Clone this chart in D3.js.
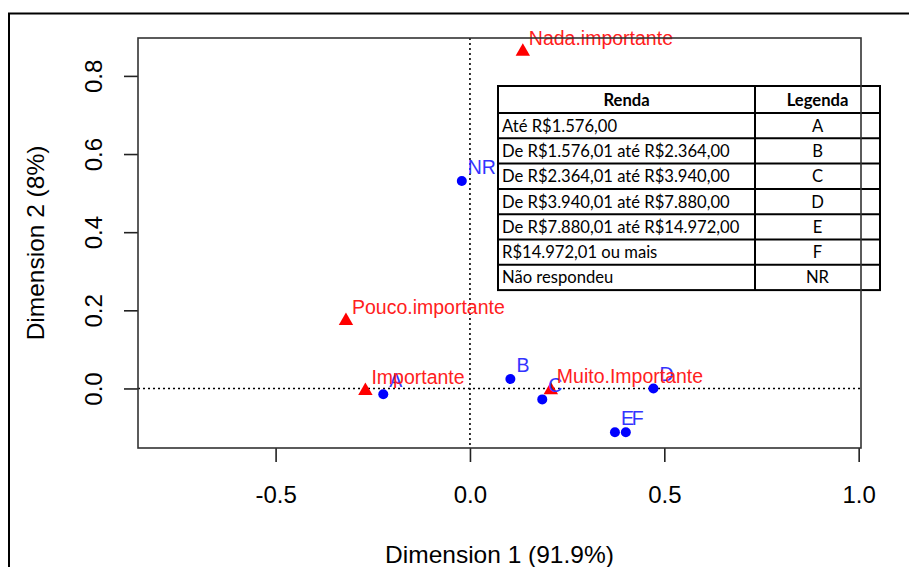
<!DOCTYPE html>
<html>
<head>
<meta charset="utf-8">
<script src="https://cdn.jsdelivr.net/npm/d3@7"></script>
<style>
  body { margin: 0; background: #fff; }
  svg { display: block; }
  .tick text { font-family: "Liberation Sans", Arial, sans-serif; font-size: 24px; fill: #000; }
  .tick line { stroke: #222; stroke-width: 1.6; }
  .lbl { font-family: "Liberation Sans", Arial, sans-serif; font-size: 19.5px; }
  .tbl text { font-family: Lato, "Open Sans", sans-serif; font-size: 16.6px; fill: #000; }
</style>
</head>
<body>
<script>
// Row points (importance), red triangles
var rowLabels = ["Nada.importante", "Pouco.importante", "Importante", "Muito.Importante"];
var rowDim1 = [0.136, -0.319, -0.269, 0.208];
var rowDim2 = [0.862, 0.173, -0.006, -0.004];

// Column points (income), blue circles
var colLabels = ["A", "B", "C", "D", "E", "F", "NR"];
var colDim1 = [-0.223, 0.104, 0.186, 0.472, 0.373, 0.401, -0.021];
var colDim2 = [-0.015, 0.024, -0.028, 0.000, -0.112, -0.112, 0.531];

// Axis ticks
var xTicks = [-0.5, 0.0, 0.5, 1.0];
var yTicks = [0.0, 0.2, 0.4, 0.6, 0.8];

// Legend table
var rendaLabels = ["Até R$1.576,00", "De R$1.576,01 até R$2.364,00", "De R$2.364,01 até R$3.940,00",
    "De R$3.940,01 até R$7.880,00", "De R$7.880,01 até R$14.972,00", "R$14.972,01 ou mais", "Não respondeu"];
var legendaLabels = ["A", "B", "C", "D", "E", "F", "NR"];

var width = 909, height = 567;
var plot = {left: 138, right: 861, top: 38, bottom: 448};

var svg = d3.select("body").append("svg")
    .attr("width", width)
    .attr("height", height);

// outer frame (left and top edges visible)
svg.append("path")
    .attr("d", "M9," + height + "V13.5H" + width)
    .attr("fill", "none")
    .attr("stroke", "#000")
    .attr("stroke-width", 2);

var x = d3.scaleLinear().domain([-0.854, 1.006]).range([plot.left, plot.right]);
var y = d3.scaleLinear().domain([-0.1524, 0.897]).range([plot.bottom, plot.top]);

// dotted reference lines at 0
svg.append("line")
    .attr("x1", x(0)).attr("x2", x(0))
    .attr("y1", plot.top).attr("y2", plot.bottom)
    .attr("stroke", "#000").attr("stroke-width", 1.6)
    .attr("stroke-dasharray", "2,3");
svg.append("line")
    .attr("x1", plot.left).attr("x2", plot.right)
    .attr("y1", y(0)).attr("y2", y(0))
    .attr("stroke", "#000").attr("stroke-width", 1.6)
    .attr("stroke-dasharray", "2,3");

// x axis
var xAxis = svg.append("g")
    .attr("transform", "translate(0," + plot.bottom + ")")
    .call(d3.axisBottom(x).tickValues(xTicks).tickSize(14).tickFormat(function(d) { return d.toFixed(1); }));
xAxis.select(".domain").remove();
xAxis.selectAll(".tick text").attr("y", 54.7).attr("dy", 0);

// y axis
var yAxis = svg.append("g")
    .attr("transform", "translate(" + plot.left + ",0)")
    .call(d3.axisLeft(y).tickValues(yTicks).tickSize(14).tickFormat(function(d) { return d.toFixed(1); }));
yAxis.select(".domain").remove();
yAxis.selectAll(".tick text")
    .attr("x", 0).attr("y", 0).attr("dy", 0)
    .attr("text-anchor", "middle")
    .attr("transform", "translate(-36.3,0) rotate(-90)");

// axis titles
svg.append("text")
    .attr("x", (plot.left + plot.right) / 2)
    .attr("y", 563)
    .attr("text-anchor", "middle")
    .style("font-family", "Liberation Sans, Arial, sans-serif")
    .style("font-size", "24.5px")
    .text("Dimension 1 (91.9%)");
svg.append("text")
    .attr("transform", "translate(44," + (plot.top + plot.bottom) / 2 + ") rotate(-90)")
    .attr("text-anchor", "middle")
    .style("font-family", "Liberation Sans, Arial, sans-serif")
    .style("font-size", "24.5px")
    .text("Dimension 2 (8%)");

var cols = colLabels.map(function(d, i) { return {label: d, d1: colDim1[i], d2: colDim2[i]}; });
var rows = rowLabels.map(function(d, i) { return {label: d, d1: rowDim1[i], d2: rowDim2[i]}; });

// column points
svg.append("g").selectAll("circle")
    .data(cols)
    .enter().append("circle")
    .attr("cx", function(d) { return x(d.d1); })
    .attr("cy", function(d) { return y(d.d2); })
    .attr("r", 5)
    .attr("fill", "#0000ff");

// row points
svg.append("g").selectAll("path")
    .data(rows)
    .enter().append("path")
    .attr("d", d3.symbol(d3.symbolTriangle, 90))
    .attr("transform", function(d) { return "translate(" + x(d.d1) + "," + y(d.d2) + ")"; })
    .attr("fill", "#ff0000");

// labels
svg.append("g").selectAll("text")
    .data(cols)
    .enter().append("text")
    .attr("class", "lbl")
    .attr("x", function(d) { return x(d.d1) + 6; })
    .attr("y", function(d) { return y(d.d2) - 7; })
    .attr("fill", "#3333ff")
    .text(function(d) { return d.label; });

svg.append("g").selectAll("text")
    .data(rows)
    .enter().append("text")
    .attr("class", "lbl")
    .attr("x", function(d) { return x(d.d1) + 6; })
    .attr("y", function(d) { return y(d.d2) - 7; })
    .attr("fill", "#ff2020")
    .text(function(d) { return d.label; });

// legend table
var tbl = {left: 498, mid: 755, right: 880, top: 86, head: 113, rowH: 25.3};
var tg = svg.append("g").attr("class", "tbl");
var tBottom = tbl.head + tbl.rowH * rendaLabels.length;

tg.append("rect")
    .attr("x", tbl.left).attr("y", tbl.top)
    .attr("width", tbl.right - tbl.left).attr("height", tBottom - tbl.top)
    .attr("fill", "#fff");

tg.append("text")
    .attr("x", (tbl.left + tbl.mid) / 2).attr("y", (tbl.top + tbl.head) / 2 + 6)
    .attr("text-anchor", "middle").style("font-weight", "bold")
    .text("Renda");
tg.append("text")
    .attr("x", (tbl.mid + tbl.right) / 2).attr("y", (tbl.top + tbl.head) / 2 + 6)
    .attr("text-anchor", "middle").style("font-weight", "bold")
    .text("Legenda");

tg.selectAll("text.renda")
    .data(rendaLabels)
    .enter().append("text")
    .attr("class", "renda")
    .attr("x", tbl.left + 4)
    .attr("y", function(d, i) { return tbl.head + tbl.rowH * (i + 0.5) + 6; })
    .text(function(d) { return d; });

tg.selectAll("text.leg")
    .data(legendaLabels)
    .enter().append("text")
    .attr("class", "leg")
    .attr("x", (tbl.mid + tbl.right) / 2)
    .attr("y", function(d, i) { return tbl.head + tbl.rowH * (i + 0.5) + 6; })
    .attr("text-anchor", "middle")
    .text(function(d) { return d; });

// grid lines of table
var hLines = [tbl.head].concat(rendaLabels.slice(1).map(function(d, i) { return tbl.head + tbl.rowH * (i + 1); }));
tg.selectAll("line.h")
    .data(hLines)
    .enter().append("line")
    .attr("x1", tbl.left).attr("x2", tbl.right)
    .attr("y1", function(d) { return d; }).attr("y2", function(d) { return d; })
    .attr("stroke", "#000").attr("stroke-width", 2);
tg.append("line")
    .attr("x1", tbl.mid).attr("x2", tbl.mid)
    .attr("y1", tbl.top).attr("y2", tBottom)
    .attr("stroke", "#000").attr("stroke-width", 2);
tg.append("rect")
    .attr("x", tbl.left).attr("y", tbl.top)
    .attr("width", tbl.right - tbl.left).attr("height", tBottom - tbl.top)
    .attr("fill", "none").attr("stroke", "#000").attr("stroke-width", 2);

// plot box drawn last so it shows through the table
svg.append("rect")
    .attr("x", plot.left).attr("y", plot.top)
    .attr("width", plot.right - plot.left).attr("height", plot.bottom - plot.top)
    .attr("fill", "none")
    .attr("stroke", "#333")
    .attr("stroke-width", 1.6);
</script>
</body>
</html>
